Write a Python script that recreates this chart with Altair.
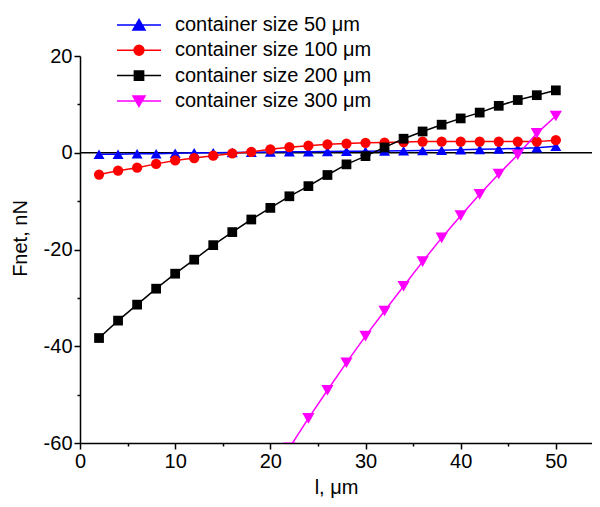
import altair as alt
import pandas as pd

# ---- data ----
l_um = [2, 4, 6, 8, 10, 12, 14, 16, 18, 20, 22, 24, 26, 28, 30,
        32, 34, 36, 38, 40, 42, 44, 46, 48, 50]
f_50 = [-0.3, -0.3, -0.2, -0.2, -0.1, 0.0, 0.0, 0.05, 0.1, 0.15, 0.2, 0.2, 0.25,
        0.3, 0.3, 0.35, 0.4, 0.45, 0.5, 0.6, 0.7, 0.8, 0.9, 1.05, 1.35]
f_100 = [-4.5, -3.7, -3.1, -2.3, -1.6, -1.1, -0.6, -0.15, 0.2, 0.7, 1.15, 1.45, 1.75,
         1.9, 2.05, 2.1, 2.2, 2.3, 2.3, 2.3, 2.3, 2.3, 2.3, 2.3, 2.6]
f_200 = [-38.3, -34.7, -31.4, -28.1, -25.0, -22.1, -19.1, -16.4, -13.8, -11.4, -9.0,
         -6.9, -4.6, -2.4, -0.7, 1.1, 2.9, 4.4, 5.8, 7.1, 8.3, 9.7, 10.9, 11.9, 12.9]
l_300 = [22, 24, 26, 28, 30, 32, 34, 36, 38, 40, 42, 44, 46, 48, 50]
f_300 = [-61.0, -54.9, -49.1, -43.4, -37.9, -32.7, -27.6, -22.5, -17.6, -13.0,
         -8.6, -4.4, -0.4, 4.0, 7.6]

series = ["container size 50 \u03bcm", "container size 100 \u03bcm",
          "container size 200 \u03bcm", "container size 300 \u03bcm"]
x_ticks = [0, 10, 20, 30, 40, 50]
x_minor = [5, 15, 25, 35, 45]
y_ticks = [-60, -40, -20, 0, 20]
y_minor = [-50, -30, -10, 10]

# ---- styles ----
colors = ["#0000FF", "#FF0000", "#000000", "#FF00FF"]
shapes = ["triangle-up", "circle", "square", "triangle-down"]
sizes = [121, 105, 95, 150]
line_seg = "M-2,0H2"
legend_shapes = [
    line_seg + "M0,-0.5L0.55,0.45L-0.55,0.45Z",
    line_seg + "M-0.45,0A0.45,0.45,0,1,0,0.45,0A0.45,0.45,0,1,0,-0.45,0Z",
    line_seg + "M-0.42,-0.42H0.42V0.42H-0.42Z",
    line_seg + "M0,0.5L0.55,-0.45L-0.55,-0.45Z",
]

rows = []
for name, xs, ys in [(series[0], l_um, f_50), (series[1], l_um, f_100),
                     (series[2], l_um, f_200), (series[3], l_300, f_300)]:
    for xv, yv in zip(xs, ys):
        rows.append({"l": xv, "F": yv, "series": name})
df = pd.DataFrame(rows)
zero_df = pd.DataFrame({"F": [0.0]})

FONT = "Liberation Sans"
xscale = alt.Scale(domain=[0, 53.8], nice=False, zero=False)
yscale = alt.Scale(domain=[-60, 20], nice=False, zero=False)
cscale = alt.Scale(domain=series, range=colors)


def leg():
    return alt.Legend(orient="none", legendX=47, legendY=-43, title=None,
                      symbolSize=484, symbolStrokeWidth=1.5, labelFontSize=20,
                      labelFont=FONT, labelColor="black", labelOffset=24,
                      rowPadding=3.3, padding=0, symbolOpacity=1, labelLimit=400)


# legend + minor ticks layer (no marks drawn)
legend_layer = alt.Chart(df).transform_filter("datum.l < -1000").mark_point(
    filled=True, opacity=1
).encode(
    x=alt.X("l:Q", scale=xscale,
            axis=alt.Axis(values=x_minor, labels=False, tickSize=3, domain=False,
                          grid=False, title=None, orient="bottom")),
    y=alt.Y("F:Q", scale=yscale,
            axis=alt.Axis(values=y_minor, labels=False, tickSize=3, domain=False,
                          grid=False, title=None, orient="left")),
    fill=alt.Fill("series:N", scale=alt.Scale(domain=series, range=colors), legend=leg()),
    stroke=alt.Stroke("series:N", scale=alt.Scale(domain=series, range=colors), legend=leg()),
    shape=alt.Shape("series:N", scale=alt.Scale(domain=series, range=legend_shapes),
                    legend=leg()),
)

zero_rule = alt.Chart(zero_df).mark_rule(color="black", strokeWidth=1.5).encode(
    y=alt.Y("F:Q", scale=yscale, axis=None)
)

minus_fix = "replace(datum.label, '\u2212', '-')"

lines = alt.Chart(df).mark_line(strokeWidth=1.5, clip=True).encode(
    x=alt.X("l:Q", scale=xscale,
            axis=alt.Axis(values=x_ticks, title="l, \u03bcm", orient="bottom",
                          tickSize=6, labelPadding=2, labelFlush=False,
                          titleX=256, titleY=44, titleBaseline="middle",
                          titleAlign="center")),
    y=alt.Y("F:Q", scale=yscale,
            axis=alt.Axis(values=y_ticks, title="Fnet, nN", orient="left",
                          tickSize=6, labelPadding=2, labelFlush=False,
                          labelExpr=minus_fix,
                          titleX=-60, titleY=182, titleAngle=270,
                          titleBaseline="middle", titleAlign="center")),
    color=alt.Color("series:N", scale=cscale, legend=None),
)

points = alt.Chart(df).mark_point(filled=True, opacity=1, clip=True).encode(
    x=alt.X("l:Q", scale=xscale, axis=None),
    y=alt.Y("F:Q", scale=yscale, axis=None),
    color=alt.Color("series:N", scale=cscale, legend=None),
    shape=alt.Shape("series:N", scale=alt.Scale(domain=series, range=shapes), legend=None),
    size=alt.Size("series:N", scale=alt.Scale(type="ordinal", domain=series, range=sizes),
                  legend=None),
)

chart = alt.layer(legend_layer, zero_rule, lines, points).resolve_scale(
    shape="independent", fill="independent", stroke="independent"
).resolve_axis(
    x="independent", y="independent"
).properties(
    width=512, height=387,
    autosize=alt.AutoSizeParams(type="none"),
    padding={"left": 72, "top": 48, "right": 0, "bottom": 56},
).configure_view(stroke=None).configure_axis(
    labelFont=FONT, labelFontSize=20, labelColor="black",
    titleFont=FONT, titleFontSize=20, titleFontWeight="normal", titleColor="black",
    domainColor="black", domainWidth=1.5, tickColor="black", tickWidth=1.5, grid=False,
)

chart.save("out.html", embed_options={"renderer": "svg", "actions": False})
